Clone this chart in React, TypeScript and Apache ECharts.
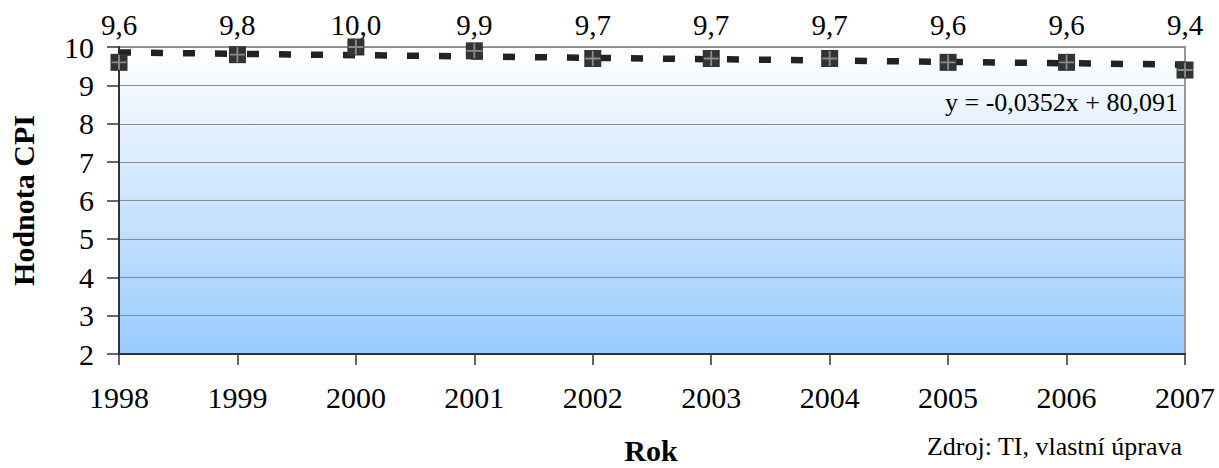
import React, { useEffect, useRef } from "react";
import * as echarts from "echarts";

const years = ["1998", "1999", "2000", "2001", "2002", "2003", "2004", "2005", "2006", "2007"];
const cpi = [9.6, 9.8, 10.0, 9.9, 9.7, 9.7, 9.7, 9.6, 9.6, 9.4];
const yMin = 2;
const yMax = 10;
const yInterval = 1;
const yAxisTitle = "Hodnota CPI";
const xAxisTitle = "Rok";
const sourceNote = "Zdroj: TI, vlastní úprava";
const trendEquation = "y = -0,0352x + 80,091";

const FONT = "Liberation Serif";

function fmt(v: number) {
  return v.toFixed(1).replace(".", ",");
}

// least-squares trend line endpoints from the data
function trendEnds(vals: number[]) {
  const n = vals.length;
  const xs = vals.map((_, i) => i);
  const mx = xs.reduce((a, b) => a + b, 0) / n;
  const my = vals.reduce((a, b) => a + b, 0) / n;
  let sxy = 0;
  let sxx = 0;
  for (let i = 0; i < n; i++) {
    sxy += (xs[i] - mx) * (vals[i] - my);
    sxx += (xs[i] - mx) * (xs[i] - mx);
  }
  const slope = sxy / sxx;
  const icpt = my - slope * mx;
  return [
    [0, icpt],
    [n - 1, icpt + slope * (n - 1)],
  ];
}

export default function App() {
  const ref = useRef<HTMLDivElement>(null);
  useEffect(() => {
    document.body.style.margin = "0";
    if (!ref.current) return;
    const chart = echarts.init(ref.current, null, { renderer: "svg" });
    const option: any = {
      animation: false,
      backgroundColor: "#ffffff",
      textStyle: { fontFamily: FONT },
      grid: {
        left: 115,
        right: 34,
        top: 47,
        bottom: 114,
        show: true,
        borderColor: "#9a9a9a",
        borderWidth: 2,
        backgroundColor: new echarts.graphic.LinearGradient(0, 0, 0, 1, [
          { offset: 0, color: "#ffffff" },
          { offset: 1, color: "#99cbff" },
        ]),
      },
      xAxis: [
        {
          type: "category",
          data: years,
          boundaryGap: false,
          position: "bottom",
          axisLine: { show: true, lineStyle: { color: "#333333", width: 2 } },
          axisTick: { show: true, length: 11, lineStyle: { color: "#333333", width: 1.5 } },
          axisLabel: {
            interval: 0,
            margin: 28,
            fontSize: 30,
            color: "#000000",
            fontFamily: FONT,
          },
          splitLine: { show: false },
        },
        {
          type: "category",
          data: cpi.map(fmt),
          boundaryGap: false,
          position: "top",
          axisLine: { show: false },
          axisTick: { show: false },
          axisLabel: {
            interval: 0,
            margin: 8,
            fontSize: 29,
            color: "#000000",
            fontFamily: FONT,
          },
          splitLine: { show: false },
        },
      ],
      yAxis: {
        type: "value",
        min: yMin,
        max: yMax,
        interval: yInterval,
        name: yAxisTitle,
        nameLocation: "middle",
        nameGap: 81,
        nameTextStyle: { fontSize: 30, fontWeight: "bold", color: "#000000", fontFamily: FONT },
        axisLine: { show: true, lineStyle: { color: "#333333", width: 2 } },
        axisTick: { show: true, length: 12, lineStyle: { color: "#333333", width: 1.5 } },
        axisLabel: { margin: 25, fontSize: 30, color: "#000000", fontFamily: FONT },
        splitLine: { show: true, lineStyle: { color: "#8c8c8c", width: 1.2 } },
      },
      graphic: [
        {
          type: "text",
          x: 651,
          y: 450,
          style: {
            text: xAxisTitle,
            fontFamily: FONT,
            fontSize: 30,
            fontWeight: "bold",
            fill: "#000000",
            align: "center",
            verticalAlign: "middle",
          },
        },
        {
          type: "text",
          x: 1182,
          y: 446,
          style: {
            text: sourceNote,
            fontFamily: FONT,
            fontSize: 26,
            fill: "#000000",
            align: "right",
            verticalAlign: "middle",
          },
        },
        {
          type: "text",
          x: 1178,
          y: 102,
          style: {
            text: trendEquation,
            fontFamily: FONT,
            fontSize: 26,
            fill: "#000000",
            align: "right",
            verticalAlign: "middle",
          },
        },
      ],
      series: [
        {
          name: "trend",
          type: "line",
          data: trendEnds(cpi),
          symbol: "none",
          lineStyle: { color: "#222222", width: 6.5, type: [12, 20], cap: "butt" },
          z: 2,
          silent: true,
        },
        {
          name: "CPI",
          type: "scatter",
          data: cpi,
          symbol: "rect",
          symbolSize: 17,
          itemStyle: { color: "#333333", opacity: 1 },
          z: 3,
        },
        {
          name: "CPI cross",
          type: "scatter",
          data: cpi,
          symbol: "path://M7,0H9V16H7Z M0,7H16V9H0Z",
          symbolSize: 15,
          itemStyle: { color: "#8a8a8a", opacity: 1 },
          z: 4,
        },
      ],
    };
    chart.setOption(option);
    return () => chart.dispose();
  }, []);
  return <div ref={ref} style={{ width: 1219, height: 468 }} />;
}
